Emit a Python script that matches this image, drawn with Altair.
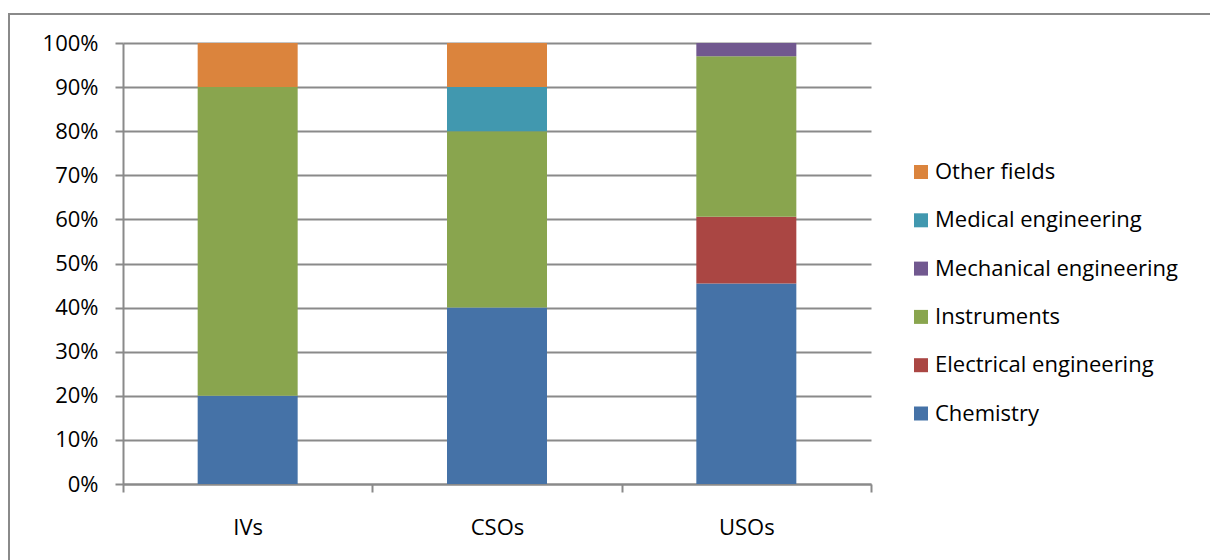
import altair as alt
import pandas as pd

# Share of patents by technology field for each organisation type
groups = ["IVs", "CSOs", "USOs"]
fields = ["Chemistry", "Electrical engineering", "Instruments",
          "Mechanical engineering", "Medical engineering", "Other fields"]
ivs = [20.0, 0.0, 70.0, 0.0, 0.0, 10.0]
csos = [40.0, 0.0, 40.0, 0.0, 10.0, 10.0]
usos = [45.45, 15.15, 36.37, 3.03, 0.0, 0.0]

legend_order = ["Other fields", "Medical engineering", "Mechanical engineering",
                "Instruments", "Electrical engineering", "Chemistry"]
palette = ["#DB843D", "#4198AF", "#71588F", "#89A54E", "#AA4643", "#4572A7"]

rows = []
for g, vals in zip(groups, [ivs, csos, usos]):
    for i, (f, v) in enumerate(zip(fields, vals)):
        rows.append({"group": g, "field": f, "share": v / 100.0, "stack": i})
df = pd.DataFrame(rows)

FONT = "Open Sans"
FS = 22
GRID = "#8a8a8a"

bars = alt.Chart(df).mark_bar(width=100).encode(
    x=alt.X("group:N", sort=groups, title=None,
            scale=alt.Scale(paddingInner=0, paddingOuter=0),
            axis=alt.Axis(labelAngle=0, labelFontSize=FS, labelFont=FONT,
                          labelColor="#000000", labelPadding=25,
                          tickBand="extent", tickSize=8, tickColor=GRID,
                          tickWidth=2, domainColor=GRID, domainWidth=2,
                          grid=False)),
    y=alt.Y("share:Q", stack="zero", title=None,
            scale=alt.Scale(domain=[0, 1], nice=False),
            axis=alt.Axis(format="%", values=[i / 10 for i in range(11)],
                          labelFontSize=FS, labelFont=FONT, labelColor="#000000",
                          labelPadding=17, tickSize=8, tickColor=GRID,
                          tickWidth=2, domainColor=GRID, domainWidth=2,
                          grid=True, gridColor=GRID, gridWidth=2)),
    color=alt.Color("field:N", scale=alt.Scale(domain=legend_order, range=palette),
                    legend=alt.Legend(title=None, orient="none", legendX=787,
                                      legendY=118, symbolType="square",
                                      symbolSize=196, symbolStrokeWidth=0,
                                      labelFontSize=FS, labelFont=FONT,
                                      labelColor="#000000", rowPadding=26.3,
                                      labelOffset=3, labelLimit=400)),
    order=alt.Order("stack:Q", sort="ascending"),
)

# Frame drawn around the whole figure
frame = alt.Chart(pd.DataFrame({"a": [0]})).mark_rect(
    fill=None, stroke=GRID, strokeWidth=2, clip=False
).encode(x=alt.value(-114), x2=alt.value(1200), y=alt.value(-29), y2=alt.value(600))

chart = alt.layer(frame, bars).properties(
    width=748, height=441,
    padding={"left": 123, "top": 43, "right": 339, "bottom": 76},
    autosize=alt.AutoSizeParams(type="none"),
    background="#ffffff",
).configure_view(stroke=None)

chart.save("out.html", embed_options={"renderer": "svg", "actions": False})
